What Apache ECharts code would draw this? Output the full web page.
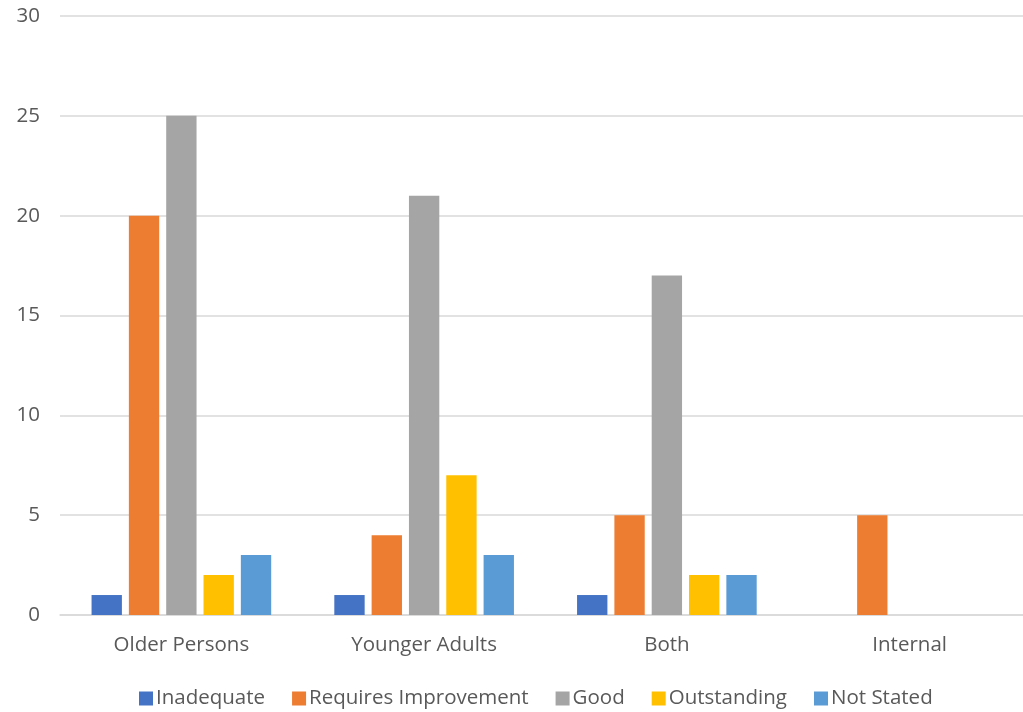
<!DOCTYPE html>
<html>
<head>
<meta charset="utf-8">
<script src="https://cdn.jsdelivr.net/npm/echarts@6/dist/echarts.min.js"></script>
<style>
  html, body { margin: 0; padding: 0; background: #fff; }
  #chart { width: 1023px; height: 712px; }
</style>
</head>
<body>
<div id="chart"></div>
<script>
var categories = ['Older Persons', 'Younger Adults', 'Both', 'Internal']
var inadequate = [1, 1, 1, 0]
var requiresImprovement = [20, 4, 5, 5]
var good = [25, 21, 17, 0]
var outstanding = [2, 7, 2, 0]
var notStated = [3, 3, 2, 0]

var textColor = '#595959'
var fontFamily = 'Open Sans'

function bar (name, data, color) {
  return {
    name: name,
    type: 'bar',
    data: data,
    barGap: '23%',
    barCategoryGap: '26%',
    itemStyle: { color: color }
  }
}

var myChart = echarts.init(document.getElementById('chart'))
var option = {
  animation: false,
  textStyle: { fontFamily: fontFamily },
  grid: {
    left: 60,
    right: -8,
    top: 16,
    bottom: 97,
    outerBoundsMode: 'none'
  },
  legend: {
    bottom: -2,
    left: 134,
    icon: 'rect',
    itemWidth: 14,
    itemHeight: 14,
    itemGap: 27,
    textStyle: { color: textColor, fontSize: 20.5, fontFamily: fontFamily, padding: [0, 0, 0, -2] }
  },
  xAxis: {
    type: 'category',
    data: categories,
    axisLine: { lineStyle: { color: '#d9d9d9', width: 1.5 } },
    axisTick: { show: false },
    axisLabel: { color: textColor, fontSize: 20.5, margin: 20 }
  },
  yAxis: {
    type: 'value',
    min: 0,
    max: 30,
    interval: 5,
    axisLine: { show: false },
    axisTick: { show: false },
    splitLine: { lineStyle: { color: '#d9d9d9', width: 1.5 } },
    axisLabel: { color: textColor, fontSize: 20.5, margin: 20 }
  },
  series: [
    bar('Inadequate', inadequate, '#4472C4'),
    bar('Requires Improvement', requiresImprovement, '#ED7D31'),
    bar('Good', good, '#A5A5A5'),
    bar('Outstanding', outstanding, '#FFC000'),
    bar('Not Stated', notStated, '#5B9BD5')
  ]
}
myChart.setOption(option)
</script>
</body>
</html>
